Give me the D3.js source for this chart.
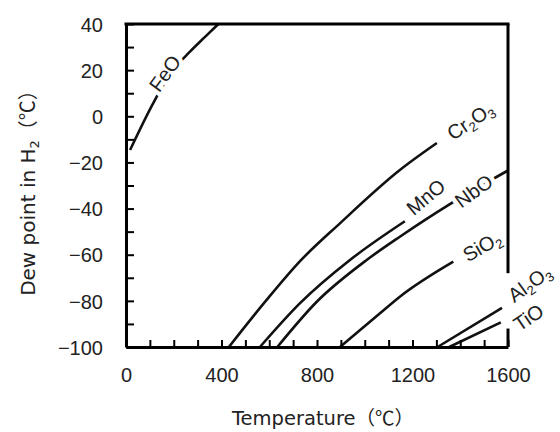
<!DOCTYPE html>
<html>
<head>
<meta charset="utf-8">
<script src="https://cdn.jsdelivr.net/npm/d3@7"></script>
<style>
  body { margin: 0; background: #fff; }
</style>
</head>
<body>
<svg id="chart"></svg>
<script>
// values: temperature (C) and dew point (C) for each oxide
var feoTemp = [17, 117, 193, 268, 330, 387];
var feoDew = [-14.6, 6.3, 19.5, 28, 34.3, 40];
var cr2o3Temp = [431, 589, 729, 896, 1147, 1302];
var cr2o3Dew = [-100, -79.6, -62.8, -46.4, -23.3, -11.6];
var mnoTemp = [561, 729, 938, 1168];
var mnoDew = [-100, -81, -62.3, -45.5];
var nboTemp = [634, 799, 1008, 1147, 1350, 1600];
var nboDew = [-100, -80.4, -62.3, -52.2, -38.5, -23.5];
var sio2Temp = [896, 1064, 1147, 1371];
var sio2Dew = [-100, -85.4, -78.2, -63];
var al2o3Temp = [1305, 1575];
var al2o3Dew = [-100, -83];
var tioTemp = [1354, 1570];
var tioDew = [-100, -89.3];

var xTicks = d3.range(0, 1601, 100);
var xLabels = [0, 400, 800, 1200, 1600];
var yTicks = d3.range(-100, 41, 10);
var yLabels = [-100, -80, -60, -40, -20, 0, 20, 40];

var curves = [
  { temp: feoTemp, dew: feoDew },
  { temp: cr2o3Temp, dew: cr2o3Dew },
  { temp: mnoTemp, dew: mnoDew },
  { temp: nboTemp, dew: nboDew },
  { temp: sio2Temp, dew: sio2Dew },
  { temp: al2o3Temp, dew: al2o3Dew },
  { temp: tioTemp, dew: tioDew }
];

// curve labels: parts are [text, isSubscript]
var curveLabels = [
  { parts: [["FeO", 0]], t: 163, d: 18.6, angle: -54 },
  { parts: [["Cr", 0], ["2", 1], ["O", 0], ["3", 1]], t: 1442, d: -2, angle: -34 },
  { parts: [["MnO", 0]], t: 1256, d: -35, angle: -40 },
  { parts: [["NbO", 0]], t: 1457, d: -32.4, angle: -36 },
  { parts: [["SiO", 0], ["2", 1]], t: 1491, d: -56.4, angle: -30 },
  { parts: [["Al", 0], ["2", 1], ["O", 0], ["3", 1]], t: 1690, d: -72.5, angle: -36 },
  { parts: [["TiO", 0]], t: 1686, d: -87.2, angle: -34 }
];

var svgWidth = 560, svgHeight = 432;
var svg = d3.select("#chart")
  .attr("width", svgWidth)
  .attr("height", svgHeight);

var x = d3.scaleLinear().domain([0, 1600]).range([126, 508]);
var y = d3.scaleLinear().domain([-100, 40]).range([347, 24]);

// curves
var line = d3.line()
  .x(function (d) { return x(d[0]); })
  .y(function (d) { return y(d[1]); })
  .curve(d3.curveMonotoneX);

svg.append("g").selectAll("path")
  .data(curves)
  .enter()
  .append("path")
  .attr("d", function (c) { return line(d3.zip(c.temp, c.dew)); })
  .attr("fill", "none")
  .attr("stroke", "#111")
  .attr("stroke-width", 2.6);

// curve labels: a white halo layer first (hides the line under the label), then the text
function drawLabels(isHalo) {
  var sel = svg.append("g").selectAll("text")
    .data(curveLabels)
    .enter()
    .append("text")
    .attr("transform", function (d) {
      return "translate(" + x(d.t) + "," + y(d.d) + ") rotate(" + d.angle + ")";
    })
    .attr("text-anchor", "middle")
    .attr("dy", "0.35em")
    .attr("font-family", "'Liberation Sans', Arial, sans-serif")
    .attr("font-size", 20)
    .attr("fill", isHalo ? "#fff" : "#222");
  if (isHalo) {
    sel.attr("stroke", "#fff").attr("stroke-width", 9).attr("stroke-linejoin", "round");
  }
  sel.each(function (d) {
    var t = d3.select(this);
    var shifted = false;
    d.parts.forEach(function (p) {
      var ts = t.append("tspan").text(p[0]);
      if (p[1]) {
        ts.attr("font-size", 13).attr("dy", shifted ? 0 : 4);
        shifted = true;
      } else if (shifted) {
        ts.attr("dy", -4);
        shifted = false;
      }
    });
  });
}
drawLabels(true);

// axes
var xAxis = d3.axisBottom(x)
  .tickValues(xTicks)
  .tickSizeInner(-7)
  .tickSizeOuter(0)
  .tickPadding(21)
  .tickFormat(function (d) { return xLabels.indexOf(d) >= 0 ? d : ""; });

var yAxis = d3.axisLeft(y)
  .tickValues(yTicks)
  .tickSizeInner(-8)
  .tickSizeOuter(0)
  .tickPadding(23)
  .tickFormat(function (d) { return yLabels.indexOf(d) >= 0 ? d3.format("")(d) : ""; });

var gx = svg.append("g").attr("transform", "translate(0,347)").call(xAxis);
var gy = svg.append("g").attr("transform", "translate(126,0)").call(yAxis);

[gx, gy].forEach(function (g) {
  g.attr("font-family", "'Liberation Sans', Arial, sans-serif").attr("font-size", 20);
  g.select(".domain").attr("stroke", "#000").attr("stroke-width", 3);
  g.selectAll(".tick line").attr("stroke", "#000").attr("stroke-width", 2);
  g.selectAll(".tick text").attr("fill", "#222");
});
gy.selectAll(".tick text").attr("dy", "0.36em");

// top and right borders (right one broken behind the Al2O3 / TiO labels)
svg.append("line")
  .attr("x1", x(0) - 1.5).attr("x2", x(1600) + 1.5)
  .attr("y1", y(40)).attr("y2", y(40))
  .attr("stroke", "#000").attr("stroke-width", 3);
svg.append("line")
  .attr("x1", x(1600)).attr("x2", x(1600))
  .attr("y1", y(40)).attr("y2", y(-68))
  .attr("stroke", "#000").attr("stroke-width", 3);
svg.append("line")
  .attr("x1", x(1600)).attr("x2", x(1600))
  .attr("y1", y(-92)).attr("y2", y(-100))
  .attr("stroke", "#000").attr("stroke-width", 3);

drawLabels(false);

// axis titles
var xTitle = svg.append("text")
  .attr("x", 323)
  .attr("y", 425)
  .attr("text-anchor", "middle")
  .attr("font-family", "'DejaVu Sans', sans-serif")
  .attr("font-size", 19.5)
  .attr("fill", "#222");
xTitle.append("tspan").text("Temperature");
xTitle.append("tspan").attr("font-family", "'Noto Sans CJK JP'").text("（℃）");

var yTitle = svg.append("text")
  .attr("transform", "translate(35,188) rotate(-90)")
  .attr("text-anchor", "middle")
  .attr("font-family", "'DejaVu Sans', sans-serif")
  .attr("font-size", 20)
  .attr("fill", "#222");
yTitle.append("tspan").text("Dew point in H");
yTitle.append("tspan").attr("font-size", 13).attr("dy", 4).text("2");
yTitle.append("tspan").attr("dy", -4).attr("font-family", "'Noto Sans CJK JP'").text("（℃）");
</script>
</body>
</html>
